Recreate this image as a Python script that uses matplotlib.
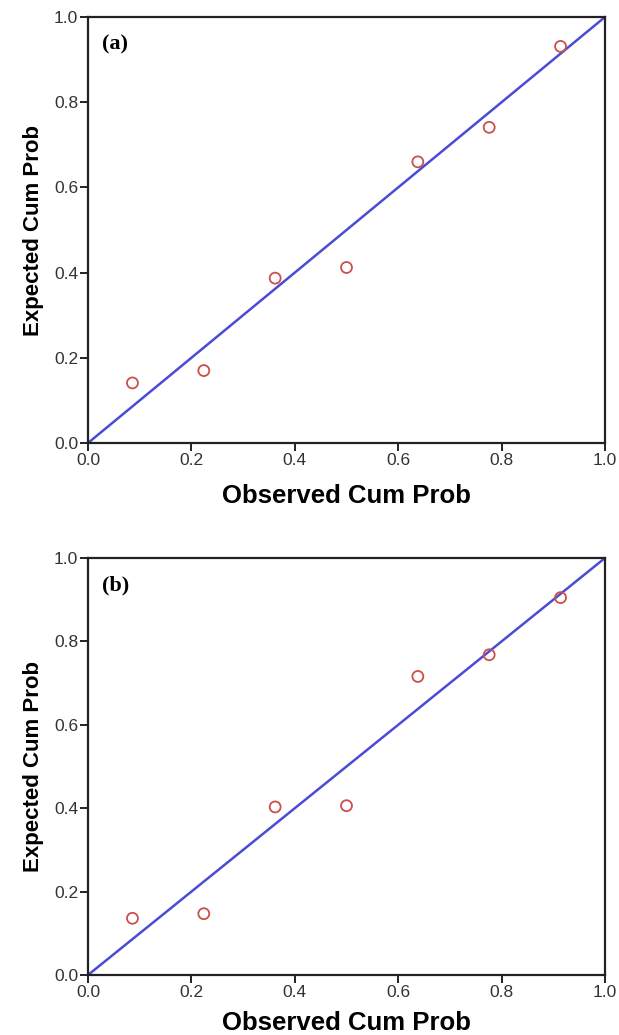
import numpy as np
import matplotlib
matplotlib.use("Agg")
import matplotlib.pyplot as plt

# P-P plot data
observed = [0.086, 0.224, 0.362, 0.500, 0.638, 0.776, 0.914]
expected_a = [0.141, 0.170, 0.387, 0.412, 0.660, 0.741, 0.931]
expected_b = [0.136, 0.147, 0.403, 0.406, 0.716, 0.768, 0.905]
panel_labels = ["(a)", "(b)"]
ticks = [0.0, 0.2, 0.4, 0.6, 0.8, 1.0]
tick_labels = ["0.0", "0.2", "0.4", "0.6", "0.8", "1.0"]

plt.rcParams["font.family"] = ["Liberation Sans", "DejaVu Sans"]

fig = plt.figure(figsize=(6.19, 10.35), dpi=100)
W, H = 619, 1035


def add_axes_px(left, top, right, bottom):
    return fig.add_axes([left / W, 1 - bottom / H, (right - left) / W, (bottom - top) / H])


def pp_panel(ax, expected, label, xpad):
    ax.plot([0, 1], [0, 1], color="#4b4bd6", lw=1.8, zorder=2)
    ax.scatter(observed, expected, s=62, facecolors="none",
               edgecolors="#c9504c", linewidths=1.3, zorder=3)
    ax.set_xlim(0, 1)
    ax.set_ylim(0, 1)
    ax.set_xticks(ticks)
    ax.set_xticklabels(tick_labels)
    ax.set_yticks(ticks)
    ax.set_yticklabels(tick_labels)
    ax.tick_params(direction="out", length=6, width=1.4, color="#222222",
                   labelsize=12.5, labelcolor="#333333", pad=1)
    for s in ax.spines.values():
        s.set_linewidth(1.6)
        s.set_color("#222222")
    ax.set_xlabel("Observed Cum Prob", fontsize=18.5, fontweight="bold", labelpad=xpad)
    ax.set_ylabel("Expected Cum Prob", fontsize=16, fontweight="bold", labelpad=7)
    ax.text(0.027, 0.935, label, transform=ax.transAxes, fontsize=16,
            fontweight="bold", family="Liberation Serif", va="center", ha="left")


ax1 = add_axes_px(88, 17, 605, 443)
pp_panel(ax1, expected_a, panel_labels[0], 12)

# bottom panel label sits right at the lower edge, as in the source figure
ax2 = add_axes_px(88, 558, 605, 975)
pp_panel(ax2, expected_b, panel_labels[1], 8)

fig.savefig("out.png", dpi=100)
